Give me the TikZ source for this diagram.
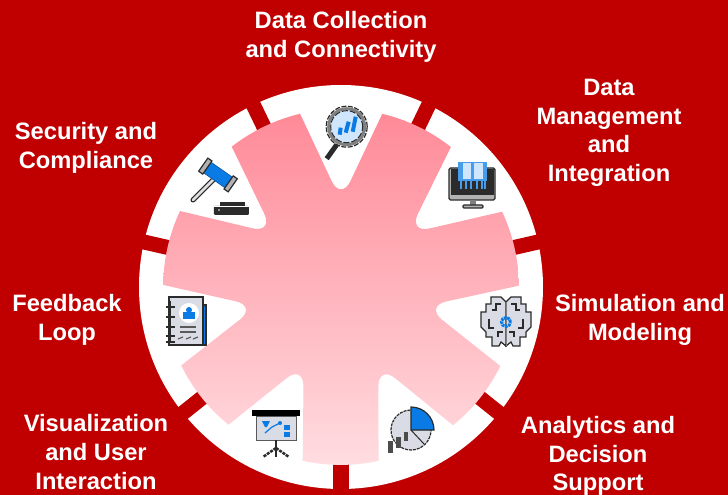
\documentclass[tikz,border=0pt]{standalone}
\usepackage{fontspec}
\setmainfont{Liberation Sans}
\definecolor{wheelred}{HTML}{C00000}
\definecolor{lobetop}{HTML}{FF8A98}
\definecolor{lobebottom}{HTML}{FFDDE1}
\definecolor{iconblue}{HTML}{0A7BE4}
\definecolor{iconsky}{HTML}{CFE6FC}
\definecolor{icongray}{HTML}{D9DCE4}
\definecolor{icondark}{HTML}{2B2B2B}
\tikzset{
  steplabel/.style={text=white,align=center,font=\fontsize{23.7}{28.7}\selectfont\bfseries},
  iconline/.style={draw=icondark,line width=1.2pt},
}
\begin{document}
\begin{tikzpicture}[x=1pt,y=1pt]
\useasboundingbox (-341,-208) rectangle (387,287);
\fill[wheelred] (-341,-208) rectangle (387,287);
%%% The white ring and the seven bars that cut it
\fill[white] (0,0) circle (202);
\foreach \a in {-90,-38.57,12.86,64.29,115.71,167.14,218.57}
  \fill[wheelred,rotate=\a] (170,-7.5) rectangle (215,7.5);
%%% The seven lobes with their rounded notches
\shade[top color=lobetop,bottom color=lobebottom] (52:178)
  \foreach \c in {64.29,115.71,167.14,218.57,270,321.43,372.86} {
    arc[start angle=\c-12.3,end angle=\c+12.3,radius=178]
    [rounded corners=22pt] -- ({\c+25.71}:86) [sharp corners] -- ({\c+39.01}:178)
  } -- cycle;
%%% The labels
\node[steplabel] (collection) at (0,250) {Data Collection\\and Connectivity};
\node[steplabel] (management) at (268,154) {Data\\Management\\and\\Integration};
\node[steplabel] (simulation) at (299,-33) {Simulation and\\Modeling};
\node[steplabel] (analytics) at (257,-169) {Analytics and\\Decision\\Support};
\node[steplabel] (visualization) at (-245,-165) {Visualization\\and User\\Interaction};
\node[steplabel] (feedback) at (-274,-33) {Feedback\\Loop};
\node[steplabel] (security) at (-255,139) {Security and\\Compliance};
%%% Magnifier
\begin{scope}[shift={(5.7,160.3)}]
\draw[icondark,line width=5pt] (-10,-18) -- (-20,-32);
\filldraw[fill=iconsky,draw=gray,line width=3pt] (0,0) circle (18);
\draw[icondark,line width=1.2pt,dash pattern=on 5pt off 1.5pt] (0,0) circle (20.5);
\draw[icondark,line width=1pt,dash pattern=on 6pt off 2pt] (0,0) circle (16);
\draw[iconblue,line width=4pt] (-7,-8) -- (-6,-1);
\draw[iconblue,line width=4pt] (-1,-6) -- (2,5);
\draw[iconblue,line width=4pt] (6,-5) -- (9,10);
\end{scope}
%%% Monitor with a book
\begin{scope}[shift={(131,102)}]
\filldraw[fill=gray!60,iconline,rounded corners=1.5pt] (-23,17) rectangle (23,-15);
\fill[icondark] (-21.5,15.5) rectangle (21.5,-10);
\fill[iconblue!75] (-14,23) rectangle (15,4);
\fill[iconsky] (-9,22) rectangle (-1,6);
\fill[iconsky] (2,22) rectangle (11,6);
\foreach \x in {-11,-6,-1,5,10,13}
  \draw[iconblue!75,line width=1.5pt] (\x,4) -- (\x,-4);
\fill[gray] (-2,-15) rectangle (4,-21);
\filldraw[fill=gray!60,iconline,rounded corners=1pt] (-9,-20) rectangle (11,-23);
\end{scope}
%%% Gavel
\begin{scope}[shift={(-121,99)}]
\draw[icondark,line width=5pt,line cap=round] (-5,10) -- (-27,-12);
\draw[white!75!gray,line width=2.5pt,line cap=round] (-5,10) -- (-27,-12);
\begin{scope}[shift={(-2,13)},rotate=-35]
\filldraw[fill=iconblue,draw=iconblue!70!black,line width=.6pt] (-13,-6.5) rectangle (13,6.5);
\filldraw[fill=gray!60,iconline] (-18,-8) rectangle (-13,8);
\filldraw[fill=gray!60,iconline] (13,-8) rectangle (18,8);
\end{scope}
\fill[icondark,rounded corners=1pt] (-6,-18) rectangle (29,-27);
\fill[icondark] (0,-14) rectangle (25,-18);
\fill[white] (-1,-22) circle (.8);
\draw[white,line width=.5pt] (-6,-18.5) -- (29,-18.5);
\end{scope}
%%% Notebook
\begin{scope}[shift={(-155,-34)}]
\filldraw[fill=icongray,iconline] (-17,24) rectangle (17,-24);
\filldraw[fill=iconblue,iconline] (17,16) rectangle (20,-24);
\draw[iconline] (-16,20) -- (-16,-22);
\foreach \y in {14,4,-6,-15,-21}
  \draw[icondark,line width=2.5pt] (-20,\y) -- (-11,\y);
\fill[white] (3,8) circle (10);
\fill[iconblue] (3,11) circle (3);
\fill[iconblue] (-3,2) rectangle (9,8.5);
\draw[gray!70!black,line width=1.2pt] (-6,-6) -- (10,-6) (-6,-11) -- (10,-11);
\draw[gray!70!black,line width=1.2pt] (-8,-18) -- (-3,-16) (0,-18) -- (5,-16) (7,-18) -- (12,-16);
\end{scope}
%%% Presentation board
\begin{scope}[shift={(-66,-146)}]
\filldraw[fill=icongray,draw=gray!70!black,line width=.8pt] (-19,17) rectangle (21,-7);
\fill[black] (-23,23) rectangle (25,17);
\draw[icondark,line width=2pt] (1,-7) -- (1,-24);
\draw[icondark,line width=2.5pt,dash pattern=on 3pt off 1pt] (1,-15) -- (-12,-24) (1,-15) -- (14,-24);
\fill[iconblue] (-13,12) -- (-5,12) -- (-8,6) -- (-10,6) -- cycle;
\draw[iconblue,line width=1.2pt] (-10,0) -- (-3,6) -- (5,10);
\fill[iconblue] (5,10) circle (2);
\fill[iconblue] (9,8) rectangle (15,3);
\fill[iconblue] (9,1) rectangle (15,-4);
\end{scope}
%%% Pie chart
\begin{scope}[shift={(70,-143)}]
\filldraw[fill=icongray,draw=icondark,line width=1.2pt,dash pattern=on 3pt off 1pt] (0,0) circle (20);
\filldraw[fill=iconblue,draw=icondark,line width=1.2pt] (0,0) -- (23,0) arc[start angle=0,end angle=90,radius=23] -- cycle;
\draw[icondark,line width=1pt] (0,0) -- (13,-14);
\draw[gray!60!black,line width=5pt] (-21,-23) -- (-21,-11);
\draw[gray!60!black,line width=5pt] (-13,-18) -- (-13,-7);
\draw[gray!60!black,line width=4pt] (-5,-11) -- (-5,-2);
\end{scope}
%%% Gear
\begin{scope}[shift={(165,-35)}]
\foreach \s in {1,-1} {
  \filldraw[xscale=\s,fill=icongray,iconline] (0,20) -- (5,25) -- (15,25) -- (15,18) -- (20,18) -- (20,10) -- (25,10) -- (25,-5) -- (20,-10) -- (20,-15) -- (14,-15) -- (14,-24) -- (7,-24) -- (5,-20) -- (0,-24) -- cycle;
  \draw[xscale=\s,iconline] (5,18) -- (10,18) -- (10,12) -- (14,12) (17,3) -- (17,-6) -- (12,-6) (8,-15) -- (8,-10) -- (3,-10);
}
\draw[line width=1pt,draw=gray] (0,20) -- (0,-24);
\draw[iconblue,line width=3pt,dash pattern=on 2.5pt off .8pt] (0,0) circle (4.5);
\end{scope}
\end{tikzpicture}
\end{document}
